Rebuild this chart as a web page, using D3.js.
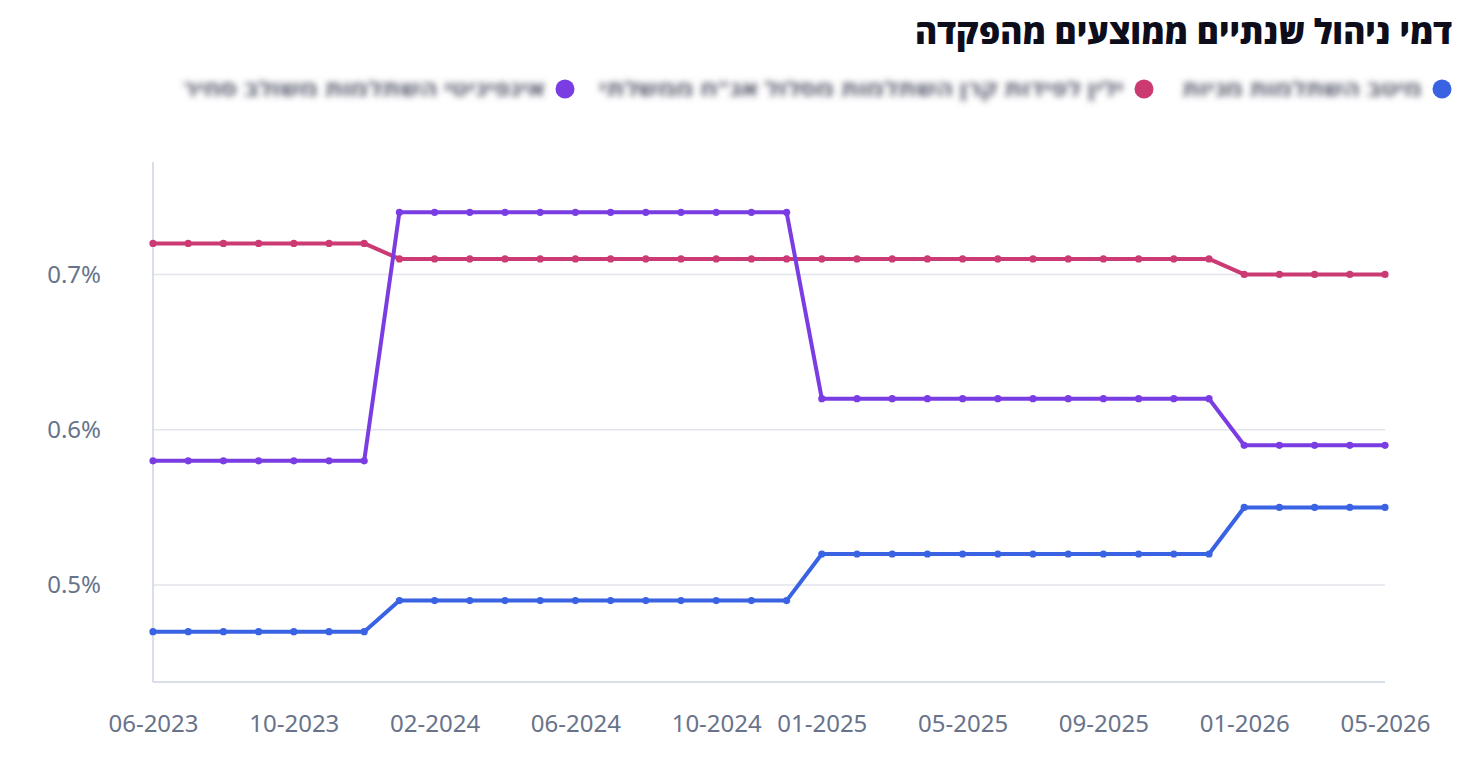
<!DOCTYPE html>
<html lang="he">
<head>
<meta charset="utf-8">
<script src="https://cdn.jsdelivr.net/npm/d3@7"></script>
<style>
  html, body { margin: 0; padding: 0; background: #ffffff; }
  svg { display: block; }
</style>
</head>
<body>
<svg id="chart" width="1466" height="774"></svg>
<script>
// ---- Data ----
const months = [
  "06-2023","07-2023","08-2023","09-2023","10-2023","11-2023","12-2023",
  "01-2024","02-2024","03-2024","04-2024","05-2024","06-2024","07-2024","08-2024","09-2024","10-2024","11-2024","12-2024",
  "01-2025","02-2025","03-2025","04-2025","05-2025","06-2025","07-2025","08-2025","09-2025","10-2025","11-2025","12-2025",
  "01-2026","02-2026","03-2026","04-2026","05-2026"
];
const tickLabels = ["06-2023","10-2023","02-2024","06-2024","10-2024","01-2025","05-2025","09-2025","01-2026","05-2026"];
const seriesNames = [
  "מיטב השתלמות מניות",
  "ילין לפידות קרן השתלמות מסלול אג\"ח ממשלתי",
  "אינפיניטי השתלמות משולב סחיר"
];
const seriesColors = ["#3a63e4", "#cc3a74", "#7a3de4"];
const blueValues = [
  0.47,0.47,0.47,0.47,0.47,0.47,0.47,
  0.49,0.49,0.49,0.49,0.49,0.49,0.49,0.49,0.49,0.49,0.49,0.49,
  0.52,0.52,0.52,0.52,0.52,0.52,0.52,0.52,0.52,0.52,0.52,0.52,
  0.55,0.55,0.55,0.55,0.55
];
const pinkValues = [
  0.72,0.72,0.72,0.72,0.72,0.72,0.72,
  0.71,0.71,0.71,0.71,0.71,0.71,0.71,0.71,0.71,0.71,0.71,0.71,
  0.71,0.71,0.71,0.71,0.71,0.71,0.71,0.71,0.71,0.71,0.71,0.71,
  0.70,0.70,0.70,0.70,0.70
];
const purpleValues = [
  0.58,0.58,0.58,0.58,0.58,0.58,0.58,
  0.74,0.74,0.74,0.74,0.74,0.74,0.74,0.74,0.74,0.74,0.74,0.74,
  0.62,0.62,0.62,0.62,0.62,0.62,0.62,0.62,0.62,0.62,0.62,0.62,
  0.59,0.59,0.59,0.59,0.59
];
const yTicks = [0.5, 0.6, 0.7];
const title = "דמי ניהול שנתיים ממוצעים מהפקדה";

(function () {
const series = [blueValues, pinkValues, purpleValues].map((v, i) => ({
  name: seriesNames[i], color: seriesColors[i], values: v
}));

// ---- Layout ----
const svg = d3.select("#chart");
const mLeft = 153, mRight = 1385, mTop = 162, mBottom = 682;

const x = d3.scalePoint().domain(months).range([mLeft, mRight]);
const allVals = [].concat(blueValues, pinkValues, purpleValues);
const vMin = d3.min(allVals), vMax = d3.max(allVals), pad = (vMax - vMin) * 0.12;
const y = d3.scaleLinear().domain([vMin - pad, vMax + pad]).range([mBottom, mTop]);

const font = "'Noto Sans', 'Open Sans', sans-serif";

// Title
svg.append("text")
  .attr("x", 1452).attr("y", 44)
  .attr("text-anchor", "end")
  .attr("font-family", "'Noto Sans', 'Open Sans', sans-serif")
  .attr("font-weight", 800)
  .attr("font-size", 34)
  .attr("fill", "#0d0d1c")
  .attr("textLength", 537)
  .attr("lengthAdjust", "spacingAndGlyphs")
  .text(title);

// Legend
const defs = svg.append("defs");
defs.append("filter").attr("id", "blurText")
  .attr("x", "-5%").attr("y", "-60%").attr("width", "110%").attr("height", "220%")
  .append("feGaussianBlur").attr("stdDeviation", 3.2);

const legendPos = [1442, 1144, 565];
const legendWidths = [240, 525, 362];
series.forEach((s, i) => {
  const g = svg.append("g").attr("transform", `translate(${legendPos[i]},89)`);
  g.append("circle").attr("r", 9.5).attr("fill", s.color);
  g.append("text")
    .attr("x", -20).attr("y", 7)
    .attr("text-anchor", "end")
    .attr("font-family", font)
    .attr("font-size", 20)
    .attr("font-weight", 700)
    .attr("fill", "#55596b")
    .attr("textLength", legendWidths[i])
    .attr("lengthAdjust", "spacingAndGlyphs")
    .attr("filter", "url(#blurText)")
    .text(s.name);
});

// Gridlines
svg.append("g").selectAll("line").data(yTicks).join("line")
  .attr("x1", mLeft).attr("x2", mRight)
  .attr("y1", d => y(d)).attr("y2", d => y(d))
  .attr("stroke", "#e3e5ec").attr("stroke-width", 1.5);

// Axes lines
svg.append("line").attr("x1", mLeft).attr("x2", mLeft).attr("y1", mTop).attr("y2", mBottom)
  .attr("stroke", "#cdd5e1").attr("stroke-width", 1.5);
svg.append("line").attr("x1", mLeft).attr("x2", mRight).attr("y1", mBottom).attr("y2", mBottom)
  .attr("stroke", "#cdd5e1").attr("stroke-width", 1.5);

// Y axis labels
const yAxis = d3.axisLeft(y).tickValues(yTicks).tickSize(0).tickPadding(0)
  .tickFormat(d => d3.format(".1f")(d) + "%");
const yg = svg.append("g").attr("transform", `translate(${101},0)`).call(yAxis);
yg.select(".domain").remove();
yg.selectAll("text").attr("font-family", font).attr("font-size", 24).attr("fill", "#68738a");

// X axis labels
const xAxis = d3.axisBottom(x).tickValues(tickLabels).tickSize(0).tickPadding(0);
const xg = svg.append("g").attr("transform", `translate(0,${715})`).call(xAxis);
xg.select(".domain").remove();
xg.selectAll("text").attr("font-family", font).attr("font-size", 24).attr("fill", "#68738a");

// Lines & points
const line = d3.line().x((d, i) => x(months[i])).y(d => y(d));
series.forEach(s => {
  svg.append("path").datum(s.values)
    .attr("d", line)
    .attr("fill", "none")
    .attr("stroke", s.color)
    .attr("stroke-width", 4)
    .attr("stroke-linejoin", "round");
  svg.append("g").selectAll("circle").data(s.values).join("circle")
    .attr("cx", (d, i) => x(months[i]))
    .attr("cy", d => y(d))
    .attr("r", 3.6)
    .attr("fill", s.color);
});
})();
</script>
</body>
</html>
